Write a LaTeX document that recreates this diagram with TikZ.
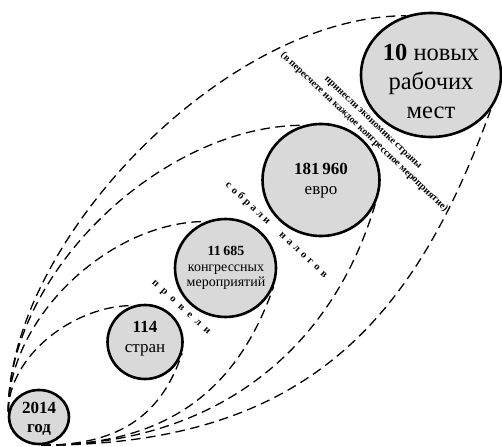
\documentclass[tikz,border=0pt]{standalone}
\usepackage{fontspec}
\setmainfont{Liberation Serif}
\newfontfamily\bubblefont{Liberation Serif}
\usetikzlibrary{shapes.geometric}
\definecolor{bubblegray}{HTML}{D9D9D9}
% letter gaps for the spaced-out labels
\newcommand\gapA{\hspace{6pt}}
\newcommand\gapB{\hspace{3.2pt}}
\newcommand\gapC{\hspace{4pt}}
\begin{document}
\begin{tikzpicture}[x=1pt,y=-1pt,
  bubble/.style={ellipse, draw=black, line width=2.6pt, fill=bubblegray, inner sep=0pt},
  link/.style={dash pattern=on 9.5pt off 5.5pt, line width=1.3pt},
  figtext/.style={align=center, inner sep=0pt},
  spaced/.style={inner sep=0pt, font=\bubblefont\bfseries\fontsize{10.5}{12}\selectfont},
  ]
\useasboundingbox (0,0) rectangle (502,446);

% the five bubbles
\node[bubble, minimum width=60pt, minimum height=54pt] (y2014) at (39,417) {};
\node[bubble, minimum width=75pt, minimum height=74pt] (c114) at (145,342) {};
\node[bubble, minimum width=101pt, minimum height=98pt] (c11685) at (225.5,268) {};
\node[bubble, minimum width=117pt, minimum height=112pt] (c181960) at (321,180) {};
\node[bubble, minimum width=140pt, minimum height=124pt] (c10) at (431,75) {};

% upper arcs: from the left of the 2014 bubble over the top of each bubble
\draw[link] (y2014.170) .. controls +(0,-170) and +(-180,0) .. (c10.113);
\draw[link] (y2014.170) .. controls +(0,-140) and +(-140,0) .. (c181960.108);
\draw[link] (y2014.170) .. controls +(0,-95) and +(-95,0) .. (c11685.113);
\draw[link] (y2014.170) .. controls +(0,-55) and +(-60,0) .. (c114.108);

% lower arcs: from the bottom of the 2014 bubble up to the right of each bubble
\draw[link] (y2014.-85) .. controls +(260,0) and +(-78,216) .. (c10.-30);
\draw[link] (y2014.-85) .. controls +(170,0) and +(-45,150) .. (c181960.-24);
\draw[link] (y2014.-85) .. controls +(130,0) and +(-35,100) .. (c11685.-21);
\draw[link] (y2014.-85) .. controls +(80,0) and +(-20,60) .. (c114.-17);

% bubble texts
\node[figtext, font=\bubblefont\bfseries\fontsize{17}{19}\selectfont] (t2014) at (39,419) {2014\\год};
\node[figtext, font=\bubblefont\fontsize{17}{20}\selectfont] (t114) at (145,339) {\textbf{114}\\стран};
\node[figtext, font=\bubblefont\fontsize{14}{15.5}\selectfont] (t11685) at (226,268) {\textbf{11\,685}\\конгрессных\\мероприятий};
\node[figtext, font=\bubblefont\fontsize{17}{20}\selectfont] (t181960) at (321,181) {\textbf{181\,960}\\евро};
\node[figtext, font=\bubblefont\fontsize{24.5}{29}\selectfont] (t10) at (431,81) {\textbf{10} новых\\рабочих\\мест};

% labels between the bubbles
\node[spaced, rotate=-42] (lprov) at (180.5,308) {п\gapA р\gapA о\gapA в\gapA е\gapA л\gapA и};
\node[spaced, rotate=-43] (lsobr) at (276.5,230) {с\gapB о\gapB б\gapB р\gapB а\gapB л\gapB и\hspace{16pt}н\gapC а\gapC л\gapC о\gapC г\gapC о\gapC в};
\node[figtext, rotate=-43.5, font=\bubblefont\bfseries\fontsize{10}{13}\selectfont] (lprin) at (368,128)
  {принесли экономике страны\\(в пересчете на каждое конгрессное мероприятие)};
\end{tikzpicture}
\end{document}
